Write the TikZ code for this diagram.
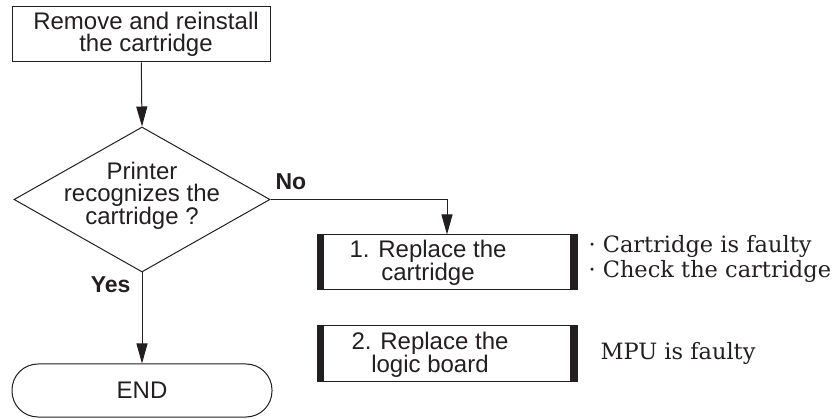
\documentclass[tikz,border=0pt]{standalone}
\usepackage{fontspec}
\setmainfont{Liberation Sans}
\newfontfamily\notefont{DejaVu Serif}
\usetikzlibrary{shapes.geometric,arrows.meta}
\definecolor{ink}{HTML}{231F20}
\begin{document}
\begin{tikzpicture}[x=1pt,y=-1pt,line width=1pt,color=ink,
  every node/.style={font=\fontsize{24}{22}\selectfont,inner sep=0pt},
  flow/.style={-{Triangle[length=20pt,width=11pt]}},
  plainbox/.style={draw,rectangle,minimum width=258pt,minimum height=55pt,align=center},
  decision/.style={draw,diamond,minimum width=256pt,minimum height=145pt},
  sidebox/.style={draw,rectangle,minimum width=260pt,minimum height=55pt,
    path picture={
      \fill (path picture bounding box.north west) rectangle ([xshift=7pt]path picture bounding box.south west);
      \fill (path picture bounding box.north east) rectangle ([xshift=-7pt]path picture bounding box.south east);}},
  terminal/.style={draw,rectangle,rounded corners=26pt,minimum width=260pt,minimum height=53pt},
  boxtext/.style={align=center},
  note/.style={font=\notefont\fontsize{22.5}{25}\selectfont,align=left,anchor=west},
  answer/.style={font=\bfseries\fontsize{23}{22}\selectfont}
]
\useasboundingbox (0,0) rectangle (835,419);

\node[plainbox] (start) at (141,34.5) {\hspace*{10pt}Remove and reinstall\\\hspace*{10pt}the cartridge};
\node[decision] (dec) at (142,199.5) {};
\node[boxtext] (dectext) at ([yshift=4pt]dec.center) {Printer\\recognizes the\\cartridge ?};
\node[sidebox] (rep1) at (447,262.5) {};
\node[boxtext] (rep1text) at (428,262.5) {1. Replace the\\cartridge};
\node[sidebox] (rep2) at (447,353.5) {};
\node[boxtext] (rep2text) at (430,355) {2. Replace the\\logic board};
\node[terminal] (end) at (142,390.5) {END};

\node[note] (note1) at (588,259) {· Cartridge is faulty\\· Check the cartridge};
\node[note] (note2) at (600,353) {MPU is faulty};

\draw[flow] (start) -- (dec.north);
\draw[flow] (dec.east) -| (rep1.north);
\draw[flow] (dec.south) -- (end.north);

\node[answer,anchor=west] (no) at (275,182) {No};
\node[answer,anchor=east] (yes) at (131,285) {Yes};
\end{tikzpicture}
\end{document}
